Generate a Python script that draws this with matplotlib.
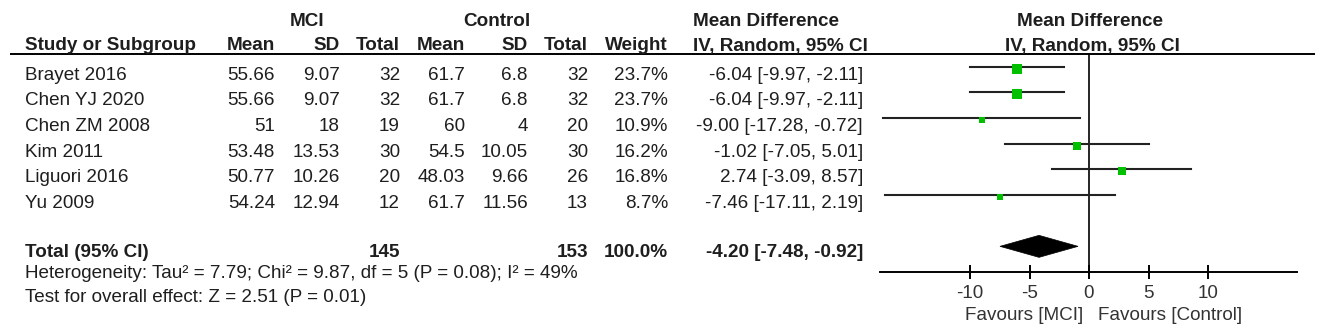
import matplotlib
matplotlib.use("Agg")
import matplotlib.pyplot as plt
from matplotlib.patches import Polygon
import numpy as np

plt.rcParams['font.family'] = ['Liberation Sans', 'DejaVu Sans']

# study data
studies = ["Brayet 2016", "Chen YJ 2020", "Chen ZM 2008", "Kim 2011", "Liguori 2016", "Yu 2009"]
mci_mean = [55.66, 55.66, 51, 53.48, 50.77, 54.24]
mci_sd = [9.07, 9.07, 18, 13.53, 10.26, 12.94]
mci_n = [32, 32, 19, 30, 20, 12]
ctl_mean = [61.7, 61.7, 60, 54.5, 48.03, 61.7]
ctl_sd = [6.8, 6.8, 4, 10.05, 9.66, 11.56]
ctl_n = [32, 32, 20, 30, 26, 13]
weight = [23.7, 23.7, 10.9, 16.2, 16.8, 8.7]
md = [-6.04, -6.04, -9.00, -1.02, 2.74, -7.46]
ci_lo = [-9.97, -9.97, -17.28, -7.05, -3.09, -17.11]
ci_hi = [-2.11, -2.11, -0.72, 5.01, 8.57, 2.19]

# pooled result
total_mci = 145
total_ctl = 153
total_md = -4.20
total_lo = -7.48
total_hi = -0.92
heterogeneity = "Heterogeneity: Tau² = 7.79; Chi² = 9.87, df = 5 (P = 0.08); I² = 49%"
overall = "Test for overall effect: Z = 2.51 (P = 0.01)"
ticks = [-10, -5, 0, 5, 10]

W, H = 1325, 329
FS = 13.6
TXT = "#1e1e1e"
GREEN = "#00c000"

fig = plt.figure(figsize=(W / 100, H / 100), dpi=100)

# whole-figure axes in pixel units for the table part
ax_t = fig.add_axes([0, 0, 1, 1])
ax_t.set_xlim(0, W)
ax_t.set_ylim(H, 0)
ax_t.axis("off")

# rows share one vertical grid with the forest axes
TOP, BOT, DY = 54, 272, 25.65

def row_px(i):
    return TOP + (i + 0.5) * DY + 8.5

# column right edges (pixels)
c_mean, c_sd, c_n = 275, 340, 400
k_mean, k_sd, k_n = 465, 528, 588
c_w, c_ci = 668, 863

hy1, hy2 = 22, 46
bold = dict(fontsize=FS, fontweight="bold", color=TXT, va="center")
norm = dict(fontsize=FS, color=TXT, va="center")

ax_t.text(307, hy1, "MCI", ha="center", **bold)
ax_t.text(497, hy1, "Control", ha="center", **bold)
ax_t.text(693, hy1, "Mean Difference", ha="left", **bold)
ax_t.text(1090, hy1, "Mean Difference", ha="center", **bold)

ax_t.text(25, hy2, "Study or Subgroup", ha="left", **bold)
for x, s in [(c_mean, "Mean"), (c_sd, "SD"), (c_n, "Total"),
             (k_mean, "Mean"), (k_sd, "SD"), (k_n, "Total"), (c_w, "Weight")]:
    ax_t.text(x, hy2, s, ha="right", **bold)
ax_t.text(693, hy2, "IV, Random, 95% CI", ha="left", **bold)
ax_t.text(1092, hy2, "IV, Random, 95% CI", ha="center", **bold)

ax_t.plot([10, 1315], [TOP, TOP], color="black", lw=1.4, solid_capstyle="butt")

for i, name in enumerate(studies):
    y = row_px(i)
    ax_t.text(25, y, name, ha="left", **norm)
    ax_t.text(c_mean, y, f"{mci_mean[i]:g}", ha="right", **norm)
    ax_t.text(c_sd, y, f"{mci_sd[i]:g}", ha="right", **norm)
    ax_t.text(c_n, y, f"{mci_n[i]}", ha="right", **norm)
    ax_t.text(k_mean, y, f"{ctl_mean[i]:g}", ha="right", **norm)
    ax_t.text(k_sd, y, f"{ctl_sd[i]:g}", ha="right", **norm)
    ax_t.text(k_n, y, f"{ctl_n[i]}", ha="right", **norm)
    ax_t.text(c_w, y, f"{weight[i]:.1f}%", ha="right", **norm)
    ax_t.text(c_ci, y, f"{md[i]:.2f} [{ci_lo[i]:.2f}, {ci_hi[i]:.2f}]", ha="right", **norm)

yt = row_px(7) - 2
ax_t.text(25, yt, "Total (95% CI)", ha="left", **bold)
ax_t.text(c_n, yt, f"{total_mci}", ha="right", **bold)
ax_t.text(k_n, yt, f"{total_ctl}", ha="right", **bold)
ax_t.text(c_w, yt, f"{sum(weight):.1f}%", ha="right", **bold)
ax_t.text(c_ci, yt, f"{total_md:.2f} [{total_lo:.2f}, {total_hi:.2f}]", ha="right", **bold)
ax_t.text(25, 274, heterogeneity, ha="left", **norm)
ax_t.text(25, 297, overall, ha="left", **norm)

# forest plot axes
x0_px, px_per = 1089, 11.9
fx0, fx1 = 880, 1297
ax_f = fig.add_axes([fx0 / W, (H - BOT) / H, (fx1 - fx0) / W, (BOT - TOP) / H])
ax_f.set_xlim((fx0 - x0_px) / px_per, (fx1 - x0_px) / px_per)
ax_f.set_ylim(8.0, -0.5)
ax_f.patch.set_visible(False)
for s in ["top", "left", "right"]:
    ax_f.spines[s].set_visible(False)
ax_f.spines["bottom"].set_linewidth(1.4)
ax_f.set_yticks([])
ax_f.set_xticks(ticks)
ax_f.set_xticklabels([f"{t}" for t in ticks])
ax_f.tick_params(axis="x", direction="inout", length=10, width=1.4, pad=4,
                 labelsize=FS, labelcolor="#333333")

ax_f.plot([0, 0], [-0.5, 8.0], color="black", lw=1.2, clip_on=False)

rows = np.arange(len(studies))
for i in rows:
    ax_f.plot([ci_lo[i], ci_hi[i]], [i, i], color="#222222", lw=1.5, clip_on=False)
    side_px = 2.05 * np.sqrt(weight[i])
    ax_f.plot(md[i], i + 0.07, marker="s", color=GREEN, markersize=side_px * 0.72,
              markeredgewidth=0, clip_on=False)

h = 11 / DY
diamond = Polygon([(total_lo, 7), (total_md, 7 - h), (total_hi, 7), (total_md, 7 + h)],
                  closed=True, facecolor="black", edgecolor="black", lw=0.5)
ax_f.add_patch(diamond)

fy = (316 - TOP) / DY - 0.5
ax_f.text(-0.5, fy, "Favours [MCI]", ha="right", va="center", fontsize=FS, color="#333333")
ax_f.text(0.76, fy, "Favours [Control]", ha="left", va="center", fontsize=FS, color="#333333")

fig.savefig("out.png", dpi=100)
